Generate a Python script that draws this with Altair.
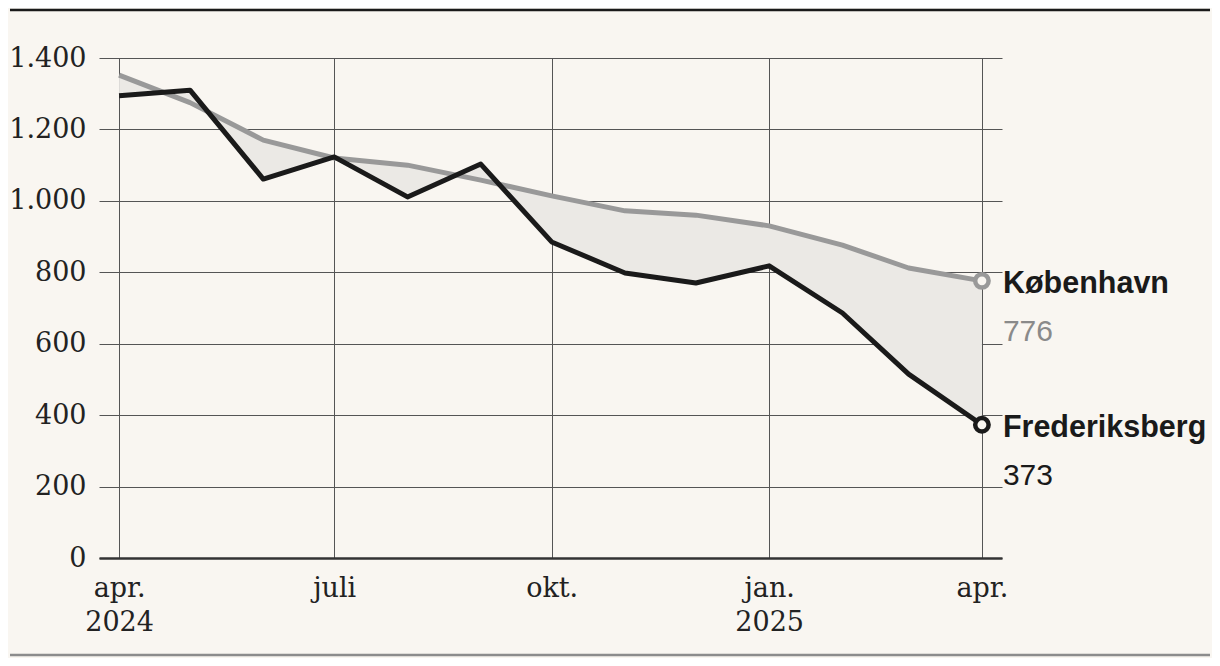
import altair as alt
import pandas as pd

# ---- data ----
dates = ["2024-04-01", "2024-05-01", "2024-06-01", "2024-07-01", "2024-08-01",
         "2024-09-01", "2024-10-01", "2024-11-01", "2024-12-01", "2025-01-01",
         "2025-02-01", "2025-03-01", "2025-04-01"]
kobenhavn = [1352, 1275, 1170, 1120, 1100, 1058, 1014, 972, 960, 930, 876, 812, 776]
frederiksberg = [1294, 1310, 1061, 1123, 1011, 1103, 885, 798, 770, 818, 686, 515, 373]
cities = ["København", "Frederiksberg"]
city_colors = ["#999999", "#1a1a1a"]
value_colors = ["#8a8a8a", "#1a1a1a"]
x_ticks = [(2024, 4), (2024, 7), (2024, 10), (2025, 1), (2025, 4)]
x_tick_labels = [["apr.", "2024"], ["juli"], ["okt."], ["jan.", "2025"], ["apr."]]
y_tick_values = [0, 200, 400, 600, 800, 1000, 1200, 1400]

BG = "#f9f6f1"

wide = pd.DataFrame({"date": dates, "København": kobenhavn, "Frederiksberg": frederiksberg})
long = pd.concat([
    pd.DataFrame({"date": dates, "city": cities[0], "value": kobenhavn}),
    pd.DataFrame({"date": dates, "city": cities[1], "value": frederiksberg}),
])
end = pd.DataFrame({
    "date": [dates[-1], dates[-1]],
    "city": cities,
    "value": [kobenhavn[-1], frederiksberg[-1]],
})
end["vtext"] = end["value"].astype(str)

# multi-line x labels
def lab(v):
    return "[" + ",".join("'" + s + "'" for s in v) + "]"
expr = "''"
for (yr, mo), tl in reversed(list(zip(x_ticks, x_tick_labels))):
    expr = (f"(utcyear(datum.value) == {yr} && utcmonth(datum.value) == {mo - 1})"
            f" ? {lab(tl)} : ({expr})")

x_scale = alt.Scale(
    type="utc",
    domain=[alt.DateTime(year=2024, month=3, date=23, hours=12, utc=True),
            alt.DateTime(year=2025, month=4, date=9, hours=12, utc=True)],
    nice=False,
)
x_enc = alt.X(
    "date:T",
    scale=x_scale,
    axis=alt.Axis(
        values=[alt.DateTime(year=yr, month=mo, date=1, utc=True) for yr, mo in x_ticks],
        labelExpr=expr, title=None, ticks=False,
        grid=True, gridColor="#555555", gridWidth=1,
        domain=True, domainColor="#333333", domainWidth=2.5,
        labelPadding=17, labelLineHeight=34, labelFontSize=27,
        labelFont="DejaVu Serif", labelColor="#222222", labelBaseline="top",
    ),
)
y_scale = alt.Scale(domain=[0, 1400], nice=False)
y_axis = alt.Axis(
    values=y_tick_values, title=None, ticks=False, domain=False,
    grid=True, gridColor="#555555", gridWidth=1,
    labelExpr="replace(format(datum.value, ','), ',', '.')",
    labelPadding=13, labelFontSize=27, labelFont="DejaVu Serif", labelColor="#222222",
)

area = alt.Chart(wide).mark_area(color="#ebe9e5", opacity=1).encode(
    x=x_enc,
    y=alt.Y("København:Q", scale=y_scale, axis=y_axis),
    y2="Frederiksberg:Q",
)

gray_line = alt.Chart(long).transform_filter(
    alt.datum.city == cities[0]
).mark_line(color=city_colors[0], strokeWidth=5, strokeJoin="round").encode(
    x="date:T", y=alt.Y("value:Q", scale=y_scale)
)
black_line = alt.Chart(long).transform_filter(
    alt.datum.city == cities[1]
).mark_line(color=city_colors[1], strokeWidth=5, strokeJoin="round").encode(
    x="date:T", y=alt.Y("value:Q", scale=y_scale)
)

color_scale = alt.Scale(domain=cities, range=city_colors)
points = alt.Chart(end).mark_point(
    filled=False, fill=BG, fillOpacity=1, size=180, strokeWidth=4.5, opacity=1
).encode(
    x="date:T", y=alt.Y("value:Q", scale=y_scale),
    stroke=alt.Stroke("city:N", scale=color_scale, legend=None),
)

names = alt.Chart(end).mark_text(
    align="left", baseline="middle", dx=21, dy=3,
    font="Liberation Sans", fontWeight="bold", fontSize=30.5, color="#1a1a1a",
).encode(x="date:T", y=alt.Y("value:Q", scale=y_scale), text="city:N")

vals = alt.Chart(end).mark_text(
    align="left", baseline="middle", dx=21, dy=51,
    font="Liberation Sans", fontSize=30,
).encode(
    x="date:T", y=alt.Y("value:Q", scale=y_scale), text="vtext:N",
    color=alt.Color("city:N", scale=alt.Scale(domain=cities, range=value_colors), legend=None),
)

one = pd.DataFrame({"a": [0]})
top_rule = alt.Chart(one).mark_rule(color="#1a1a1a", strokeWidth=2.5).encode(
    x=alt.value(-89), x2=alt.value(1111), y=alt.value(-48)
)
bottom_rule = alt.Chart(one).mark_rule(color="#8c8c8c", strokeWidth=2.5).encode(
    x=alt.value(-89), x2=alt.value(1111), y=alt.value(597)
)

chart = alt.layer(
    area, gray_line, black_line, points, names, vals, top_rule, bottom_rule
).resolve_scale(color="independent", stroke="independent").properties(
    width=903, height=500,
    autosize=alt.AutoSizeParams(type="none"),
    padding={"left": 91, "top": 50, "right": 210, "bottom": 100},
    background=BG,
).configure_view(strokeWidth=0)

chart.save("out.html", embed_options={"renderer": "svg", "actions": False})
